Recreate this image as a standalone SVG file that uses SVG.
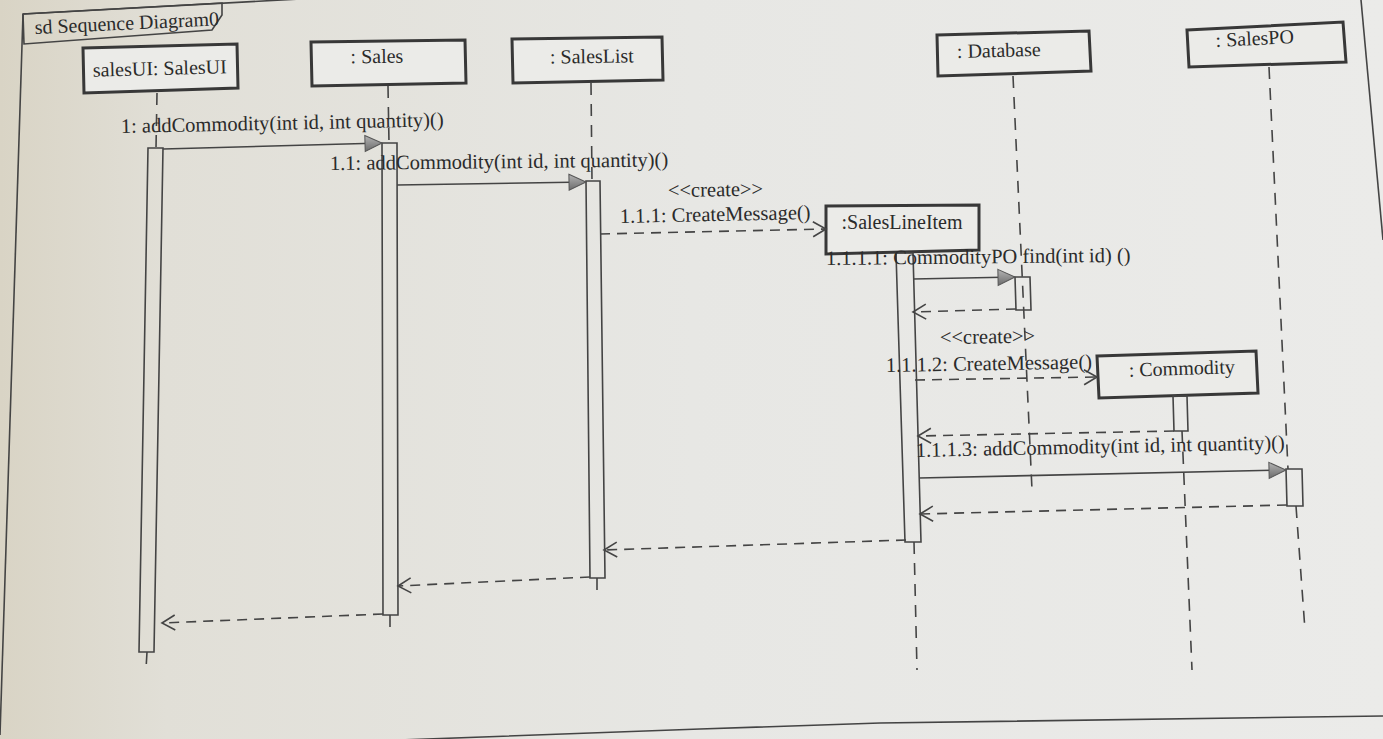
<svg xmlns="http://www.w3.org/2000/svg" width="1383" height="739" viewBox="0 0 1383 739">
  <defs>
    <linearGradient id="paper" x1="0" y1="0" x2="1" y2="0">
      <stop offset="0" stop-color="#d9d4c5"/>
      <stop offset="0.12" stop-color="#e1dfd7"/>
      <stop offset="0.5" stop-color="#e7e7e4"/>
      <stop offset="1" stop-color="#ebebe9"/>
    </linearGradient>
    <linearGradient id="headFill" x1="0" y1="0" x2="0" y2="1">
      <stop offset="0" stop-color="#b4b4b4"/>
      <stop offset="1" stop-color="#6c6c6c"/>
    </linearGradient>
    <!-- synchronous call: filled triangle -->
    <marker id="call" markerUnits="userSpaceOnUse" markerWidth="20" markerHeight="18" refX="18" refY="8" orient="auto" overflow="visible">
      <path d="M1,0 L18,8 L1,16 Z" fill="url(#headFill)" stroke="#555" stroke-width="1"/>
    </marker>
    <!-- create / reply: open arrow -->
    <marker id="open" markerUnits="userSpaceOnUse" markerWidth="16" markerHeight="16" refX="13" refY="7.5" orient="auto" overflow="visible">
      <path d="M0,0 L13,7.5 L0,15" fill="none" stroke="#444" stroke-width="1.6"/>
    </marker>
    <style>
      .box { fill: #ebebe8; stroke: #383838; stroke-width: 3; }
      .txt { font-family: "Liberation Serif", "Times New Roman", serif; font-size: 20px; fill: #2b2b2b; }
      .mtxt { font-size: 20.5px; }
      .life { fill: none; stroke: #444; stroke-width: 1.6; stroke-dasharray: 12 9; }
      .act { fill: none; stroke: #444; stroke-width: 1.6; }
      .frm { fill: none; stroke: #444; stroke-width: 1.6; }
      .msg { fill: none; stroke: #444; stroke-width: 1.6; }
      .call { marker-end: url(#call); }
      .dash { stroke-dasharray: 10 7; marker-end: url(#open); }
    </style>
  </defs>

  <rect x="0" y="0" width="1383" height="739" fill="url(#paper)"/>

  <!-- diagram frame with its name tab -->
  <g id="frame">
    <path class="frm" d="M23,14 L0,735"/>
    <path class="frm" d="M23,14 L300,-1"/>
    <path class="frm" d="M1361,0 L1383,240"/>
    <path class="frm" d="M400,740 L700,729 L880,723 L1383,716" stroke-width="2"/>
    <polygon class="frm" points="23,14 222,3 222,15 212,30 24,44"/>
    <text class="txt" x="35" y="34" transform="rotate(-2.7 35 34)">sd Sequence Diagram0</text>
  </g>

  <!-- lifelines -->
  <g id="salesUI">
    <polygon class="box" points="83,48 237,44 238,88 84,93"/>
    <text class="txt" x="160" y="75" text-anchor="middle" transform="rotate(-1.5 160 75)">salesUI: SalesUI</text>
    <path class="life" d="M157,93 L156,148 M147,652 L146,669"/>
    <polygon class="act" points="148,148 163,148 154,652 139,652"/>
  </g>

  <g id="sales">
    <polygon class="box" points="311,42 465,40 466,83 312,86"/>
    <text class="txt" x="377" y="63" text-anchor="middle" transform="rotate(-0.8 377 63)">: Sales</text>
    <path class="life" d="M388,86 L389,143 M390,615 L390,633"/>
    <polygon class="act" points="382,143 397,143 398,615 383,615"/>
  </g>

  <g id="salesList">
    <polygon class="box" points="512,39 662,37 663,80 513,83"/>
    <text class="txt" x="592" y="63" text-anchor="middle" transform="rotate(-0.8 592 63)">: SalesList</text>
    <path class="life" d="M591,83 L592,181 M597,578 L597,599"/>
    <polygon class="act" points="586,181 600,181 605,578 590,578"/>
  </g>

  <g id="salesLineItem">
    <polygon class="box" points="826,206 979,205 979,250 826,254"/>
    <text class="txt" x="902" y="229" text-anchor="middle">:SalesLineItem</text>
    <path class="life" d="M914,542 L917,670"/>
    <polygon class="act" points="896,253 913,253 921,542 905,542"/>
  </g>

  <g id="database">
    <polygon class="box" points="937,35 1089,31 1091,71 938,76"/>
    <text class="txt" x="999" y="57" text-anchor="middle" transform="rotate(-1.5 999 57)">: Database</text>
    <path class="life" d="M1013,76 L1032,490"/>
    <polygon class="act" points="1015,277 1030,277 1031,310 1016,310"/>
  </g>

  <g id="commodity">
    <polygon class="box" points="1097,356 1256,351 1258,393 1099,398"/>
    <text class="txt" x="1182" y="375" text-anchor="middle" transform="rotate(-1.8 1182 375)">: Commodity</text>
    <path class="life" d="M1182,431 L1192,670"/>
    <polygon class="act" points="1173,396 1187,396 1188,431 1174,431"/>
  </g>

  <g id="salesPO">
    <polygon class="box" points="1187,30 1343,22 1346,62 1189,67"/>
    <text class="txt" x="1255" y="45" text-anchor="middle" transform="rotate(-2.8 1255 45)">: SalesPO</text>
    <path class="life" d="M1269,67 L1288,469 M1296,506 L1305,630"/>
    <polygon class="act" points="1286,469 1302,469 1303,506 1287,506"/>
  </g>

  <!-- messages -->
  <g id="connectors">
    <path class="msg call" d="M163,149 L382,143"/>
    <path class="msg call" d="M397,185 L586,182"/>
    <path class="msg dash" d="M600,234 L826,229"/>
    <path class="msg call" d="M913,279 L1015,277"/>
    <path class="msg dash" d="M1016,309 L913,312"/>
    <path class="msg dash" d="M915,380 L1097,377"/>
    <path class="msg dash" d="M1174,431 L918,436"/>
    <path class="msg call" d="M919,478 L1286,470"/>
    <path class="msg dash" d="M1287,505 L920,514"/>
    <path class="msg dash" d="M906,540 L604,550"/>
    <path class="msg dash" d="M590,577 L398,586"/>
    <path class="msg dash" d="M383,614 L162,623"/>
  </g>

  <!-- message labels -->
  <g id="message-labels" class="txt mtxt">
    <text x="121" y="133" transform="rotate(-1.2 121 133)">1: addCommodity(int id, int quantity)()</text>
    <text x="330" y="170" transform="rotate(-0.6 330 170)">1.1: addCommodity(int id, int quantity)()</text>
    <text x="668" y="197" transform="rotate(-0.8 668 197)">&lt;&lt;create&gt;&gt;</text>
    <text x="620" y="223" transform="rotate(-1.2 620 223)">1.1.1: CreateMessage()</text>
    <text x="826" y="265" transform="rotate(-0.6 826 265)">1.1.1.1: CommodityPO find(int id) ()</text>
    <text x="940" y="344" transform="rotate(-0.8 940 344)">&lt;&lt;create&gt;&gt;</text>
    <text x="886" y="372" transform="rotate(-1 886 372)">1.1.1.2: CreateMessage()</text>
    <text x="916" y="457" transform="rotate(-1.2 916 457)">1.1.1.3: addCommodity(int id, int quantity)()</text>
  </g>
</svg>
